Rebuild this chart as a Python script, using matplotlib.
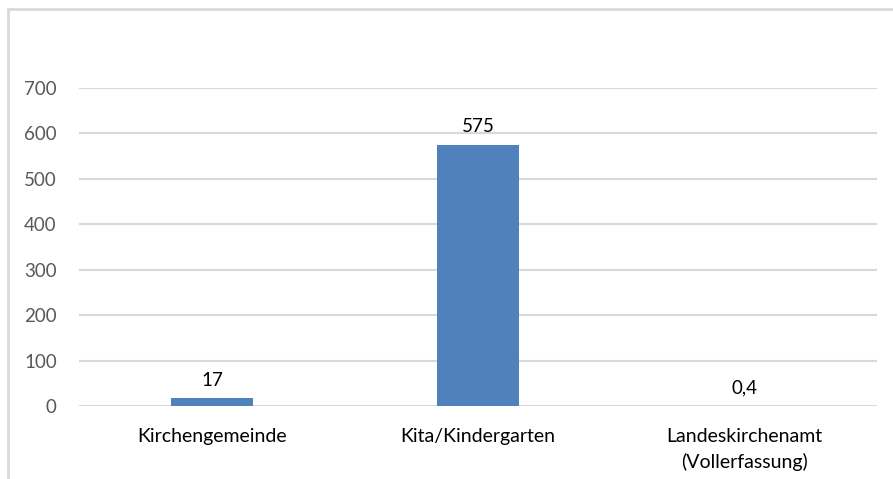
import matplotlib.pyplot as plt
from matplotlib.patches import Rectangle

categories = ["Kirchengemeinde", "Kita/Kindergarten", "Landeskirchenamt\n(Vollerfassung)"]
values = [17, 575, 0.4]
value_labels = ["17", "575", "0,4"]
yticks = [0, 100, 200, 300, 400, 500, 600, 700]

plt.rcParams['font.family'] = ['Lato', 'DejaVu Sans']

W, H = 893, 479
fig = plt.figure(figsize=(W / 100, H / 100), dpi=100)
ax = fig.add_axes([79 / W, 1 - 406 / H, (877 - 79) / W, (406 - 88) / H])

x = list(range(len(categories)))
bars = ax.bar(x, values, width=0.31, color='#4f81bd', zorder=3)

for b, lab in zip(bars, value_labels):
    ax.annotate(lab, (b.get_x() + b.get_width() / 2, b.get_height()),
                xytext=(0, 7), textcoords='offset points',
                ha='center', va='bottom', fontsize=13.5, color='#000000')

ax.set_xlim(-0.5, len(categories) - 0.5)
ax.set_ylim(0, 700)
ax.set_yticks(yticks)
ax.set_yticklabels([str(v) for v in yticks], fontsize=13.5, color='#595959')
ax.set_xticks(x)
ax.set_xticklabels(categories, fontsize=14, color='#000000', linespacing=1.5)
ax.tick_params(axis='y', length=0, pad=16)
ax.tick_params(axis='x', length=0, pad=16)
ax.grid(axis='y', color='#d9d9d9', linewidth=1.5, zorder=0)
for s in ax.spines.values():
    s.set_visible(False)

# light frame around the chart area
fig.add_artist(Rectangle((7.5 / W, -0.1), 1.2, 1.1 - 8.5 / H,
                         transform=fig.transFigure, fill=False,
                         edgecolor='#d9d9d9', linewidth=2))

plt.savefig('out.png', dpi=100)
plt.close()
